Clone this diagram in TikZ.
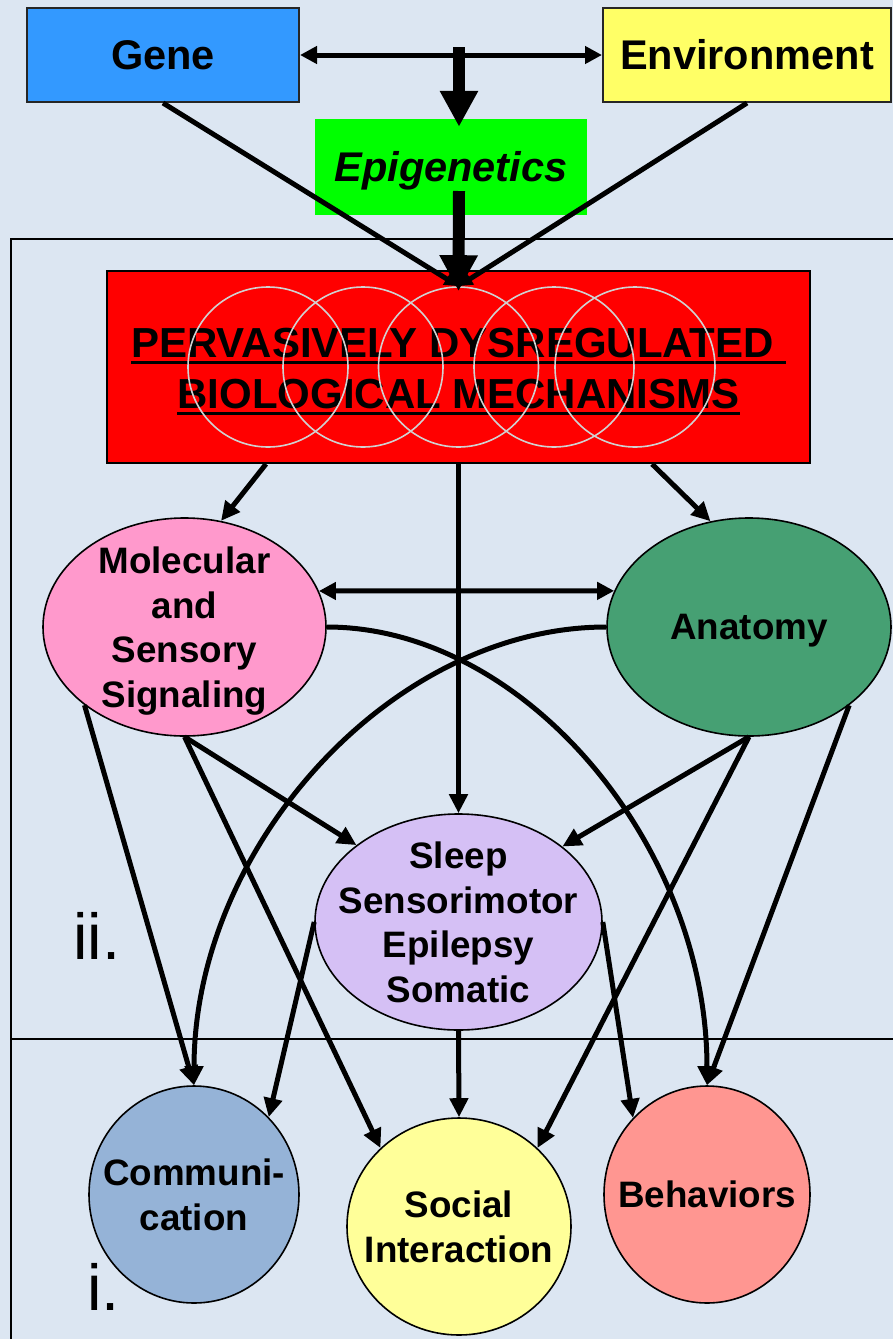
\documentclass[tikz,border=0pt]{standalone}
\usepackage{fontspec}
\setmainfont{Liberation Sans}
\usetikzlibrary{arrows.meta,shapes.geometric}
\definecolor{bg}{RGB}{220,230,242}
\definecolor{geneblue}{RGB}{51,153,255}
\definecolor{envyellow}{RGB}{255,255,102}
\definecolor{epigreen}{RGB}{0,255,0}
\definecolor{molpink}{RGB}{255,153,204}
\definecolor{anatgreen}{RGB}{70,160,115}
\definecolor{sleeplilac}{RGB}{213,192,245}
\definecolor{commblue}{RGB}{149,179,215}
\definecolor{socyellow}{RGB}{255,255,153}
\definecolor{behsalmon}{RGB}{255,150,145}
\newsavebox\myulbox
\newcommand\myul[1]{\sbox\myulbox{#1}\rlap{\rule[-6.5pt]{\wd\myulbox}{3pt}}\usebox\myulbox}
\begin{document}
\begin{tikzpicture}[x=1pt,y=-1pt,
  topbox/.style={draw=black!85,line width=2pt,inner sep=0pt,font=\fontsize{41.5}{48}\selectfont\bfseries},
  ring/.style={circle,draw=black!18,line width=1.6pt,minimum size=160pt,inner sep=0pt},
  oval/.style={ellipse,draw=black,line width=1.6pt,inner sep=0pt},
  ovaltext/.style={font=\fontsize{36.8}{44.5}\selectfont\bfseries,align=center,text depth=0pt,inner sep=0pt},
  conn/.style={line width=5pt,-{Triangle[length=19pt,width=18pt]}},
  dblconn/.style={line width=5pt,{Triangle[length=17pt,width=17pt]}-{Triangle[length=17pt,width=17pt]}},
  bigconn/.style={line width=12pt,-{Triangle[length=36pt,width=36pt]}},
  sideconn/.style={line width=5pt,-{Triangle[length=14pt,width=13pt]}},
  panel/.style={line width=1.6pt}
]
\path[use as bounding box,fill=bg] (0,0) rectangle (893,1339);
% panel frame
\draw[panel] (11,1339) -- (11,239) -- (893,239);
\draw[panel] (11,1039) -- (893,1039);
% top boxes
\node[topbox,fill=geneblue,minimum width=272pt,minimum height=94pt] (gene) at (163,55) {Gene};
\node[topbox,fill=envyellow,minimum width=288pt,minimum height=94pt] (env) at (747,55) {Environment};
\node[fill=epigreen,minimum width=272pt,minimum height=96pt,inner sep=0pt,
      font=\fontsize{41.5}{48}\selectfont\bfseries\itshape,text height=29pt,text depth=0pt] (epi) at (451,167) {Epigenetics};
% red box
\node[draw=black,line width=2pt,fill=red,minimum width=703pt,minimum height=192pt,inner sep=0pt,
      label={[align=center,inner sep=0pt,yshift=-5pt,font=\fontsize{42}{51}\selectfont\bfseries]center:\myul{PERVASIVELY DYSREGULATED\ }\\\myul{BIOLOGICAL MECHANISMS}}] (red) at (458.5,367) {};
\foreach \i/\x in {1/268,2/363,3/458.5,4/554,5/635}
  \node[ring] (c\i) at (\x,367) {};
% ellipses
\node[oval,fill=molpink,minimum width=283pt,minimum height=218pt,
      label={[ovaltext]center:Molecular\\and\\Sensory\\Signaling}] (mol) at (184.5,627) {};
\node[oval,fill=anatgreen,minimum width=284pt,minimum height=218pt,
      label={[ovaltext]center:Anatomy}] (anat) at (749,627) {};
\node[oval,fill=sleeplilac,minimum width=287pt,minimum height=216pt,
      label={[ovaltext]center:Sleep\\Sensorimotor\\Epilepsy\\Somatic}] (sleep) at (458.5,922) {};
\node[oval,fill=commblue,minimum width=210pt,minimum height=217pt,
      label={[ovaltext]center:Communi-\\cation}] (comm) at (194,1194.5) {};
\node[oval,fill=socyellow,minimum width=224pt,minimum height=217pt,
      label={[ovaltext]center:Social\\Interaction}] (social) at (459,1226.5) {};
\node[oval,fill=behsalmon,minimum width=206pt,minimum height=217pt,
      label={[ovaltext]center:Behaviors}] (behav) at (707,1194.5) {};
% labels
\node[anchor=base west,inner sep=0pt,font=\fontsize{65}{70}\selectfont] (lab2) at (73,959) {ii.};
\node[anchor=base west,inner sep=0pt,font=\fontsize{65}{70}\selectfont] (lab1) at (87.3,1310.7) {i.};
% top connectors
\coordinate (ge) at (459,47);
\coordinate (epiout) at (459,191);
\draw[dblconn] (gene) -- (env);
\draw[bigconn,shorten >=-8pt] (ge) -- (ge |- epi.north);
\draw[sideconn] (gene.south) -- (c3.north);
\draw[sideconn] (env.south) -- (c3.north);
\draw[bigconn,shorten >=-5pt] (epiout) -- (c3.north);
% middle connectors
\draw[conn] ([xshift=-192.5pt]red.south) -- (mol.71);
\draw[conn] ([xshift=193.5pt]red.south) -- (anat.110);
\draw[conn] (red.south) -- (sleep.north);
\draw[dblconn] (mol.15) -- (anat.165);
\draw[conn] (mol.east) .. controls +(198,0) and +(0,-239) .. (behav.north);
\draw[conn] (anat.west) .. controls +(-214,0) and +(0,-239) .. (comm.north);
\draw[conn] (mol.218) -- (comm.north);
\draw[conn] (mol.south) -- (sleep.143);
\draw[conn] (mol.south) -- (social.135);
\draw[conn] (anat.south) -- (sleep.36);
\draw[conn] (anat.south) -- (social.45);
\draw[conn] (anat.322) -- (behav.north);
\draw[conn] (sleep.west) -- (comm.46);
\draw[conn] (sleep.east) -- (behav.134);
\draw[conn] (sleep.south) -- (social.north);
\end{tikzpicture}
\end{document}
